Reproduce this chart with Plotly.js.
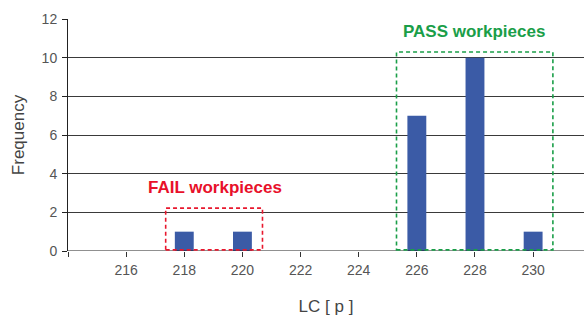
<!DOCTYPE html>
<html>
<head>
<meta charset="utf-8">
<script src="https://cdn.plot.ly/plotly-3.0.1.min.js"></script>
<style>html,body{margin:0;padding:0;background:#fff;}#chart{width:584px;height:316px;}</style>
</head>
<body>
<div id="chart"></div>
<script>
const lcValues = [218, 220, 226, 228, 230];
const frequency = [1, 1, 7, 10, 1];
const xTickVals = [214, 216, 218, 220, 222, 224, 226, 228, 230];
const xTickText = ['', '216', '218', '220', '222', '224', '226', '228', '230'];
const yTickVals = [0, 2, 4, 6, 8, 10, 12];
const failLabel = 'FAIL workpieces';
const passLabel = 'PASS workpieces';

const trace = {
  type: 'bar', x: lcValues, y: frequency, width: 0.65,
  marker: {color: '#3b5ba6'}, hoverinfo: 'x+y'
};
const layout = {
  width: 584, height: 316,
  margin: {l: 68, r: 0, t: 19, b: 65},
  paper_bgcolor: '#fff', plot_bgcolor: '#fff',
  font: {family: 'Liberation Sans, Arial, sans-serif', color: '#555'},
  showlegend: false,
  xaxis: {
    range: [214, 231.75], tickvals: xTickVals, ticktext: xTickText,
    showgrid: false, zeroline: false, showline: false,
    ticks: 'outside', ticklen: 5, tickcolor: '#333', tickwidth: 1,
    ticklabelstandoff: 1,
    tickfont: {size: 14, color: '#555'},
    title: {text: 'LC [ p ]', font: {size: 17, color: '#444'}, standoff: 23}
  },
  yaxis: {
    range: [0, 12], tickvals: yTickVals,
    showgrid: true, gridcolor: '#3a3a3a', gridwidth: 1,
    zeroline: false, showline: true, linecolor: '#222', linewidth: 1,
    ticks: 'outside', ticklen: 5, tickcolor: '#222',
    ticklabelstandoff: 2,
    tickfont: {size: 14, color: '#555'},
    title: {text: 'Frequency', font: {size: 17, color: '#444'}, standoff: 12}
  },
  shapes: [
    {type: 'line', xref: 'paper', yref: 'y', x0: 0, x1: 1, y0: 0, y1: 0, line: {color: '#222', width: 1.2}},
    {type: 'rect', xref: 'x', yref: 'y', x0: 217.36, x1: 220.69, y0: 0.06, y1: 2.22,
     line: {color: '#e8182e', width: 1.6, dash: '4px,3px'}},
    {type: 'rect', xref: 'x', yref: 'y', x0: 225.3, x1: 230.68, y0: 0.06, y1: 10.29,
     line: {color: '#1a9e48', width: 1.6, dash: '4px,3px'}}
  ],
  annotations: [
    {x: 219.05, y: 3.27, xref: 'x', yref: 'y', text: failLabel, showarrow: false,
     font: {size: 17, color: '#e8102a', family: 'Liberation Sans, Arial, sans-serif', weight: 'bold'}},
    {x: 227.98, y: 11.33, xref: 'x', yref: 'y', text: passLabel, showarrow: false,
     font: {size: 17, color: '#1a9e48', family: 'Liberation Sans, Arial, sans-serif', weight: 'bold'}}
  ]
};
Plotly.newPlot('chart', [trace], layout, {displayModeBar: false, staticPlot: true});
</script>
</body>
</html>
